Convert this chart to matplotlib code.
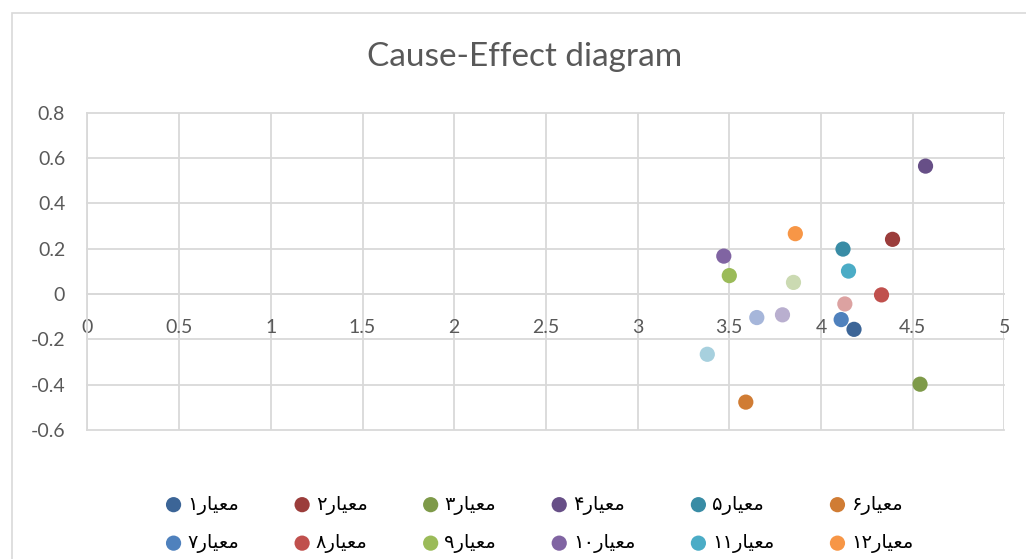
import matplotlib.pyplot as plt
from matplotlib.patches import Rectangle

# criteria (Persian labels), x = D+R, y = D-R
labels = ["معیار۱", "معیار۲", "معیار۳", "معیار۴", "معیار۵", "معیار۶",
          "معیار۷", "معیار۸", "معیار۹", "معیار۱۰", "معیار۱۱", "معیار۱۲",
          "معیار۱۳", "معیار۱۴", "معیار۱۵", "معیار۱۶", "معیار۱۷"]
x_vals = [4.18, 4.39, 4.54, 4.57, 4.12, 3.59,
          4.11, 4.33, 3.50, 3.47, 4.15, 3.86,
          3.65, 4.13, 3.85, 3.79, 3.38]
y_vals = [-0.156, 0.241, -0.398, 0.564, 0.198, -0.477,
          -0.113, -0.004, 0.081, 0.167, 0.101, 0.266,
          -0.104, -0.044, 0.051, -0.092, -0.266]
colors = ["#3c6597", "#9b3d3b", "#7e9a49", "#674f87", "#398ca5", "#d07c34",
          "#4f81bd", "#c0504d", "#9bbb59", "#8064a2", "#4bacc6", "#f79646",
          "#a6b6da", "#dca2a1", "#cbdab2", "#b9afcf", "#a7d0de"]
# only the first two legend rows are visible in the chart
n_legend = 12


# matplotlib has no Arabic shaping: build the visual (presentation form) string
FORMS = {"م": "\ufee3", "ع": "\ufecc", "ی": "\ufef4", "ا": "\ufe8e", "ر": "\ufead"}


def visual(label):
    word, num = label[:5], label[5:]
    return num + "".join(FORMS[c] for c in reversed(word))


grid_c = "#d9d9d9"
text_c = "#595959"

fig = plt.figure(figsize=(10.26, 5.59), dpi=100)
fig.patches.append(Rectangle((12 / 1026, -0.1), 1.2, 1.1 - 13 / 559,
                             transform=fig.transFigure, fill=False,
                             edgecolor=grid_c, lw=1.2))

ax = fig.add_axes([87.4 / 1026, 1 - 430 / 559, 917 / 1026, (430 - 112.6) / 559])
handles = []
for lab, x, y, c in zip(labels, x_vals, y_vals, colors):
    h = ax.scatter([x], [y], s=120, color=c, edgecolors="none", zorder=3,
                   label=visual(lab))
    handles.append(h)

ax.set_xlim(0, 5)
ax.set_ylim(-0.6, 0.8)
ax.set_xticks([0, 0.5, 1, 1.5, 2, 2.5, 3, 3.5, 4, 4.5, 5])
ax.set_xticklabels(["0", "0.5", "1", "1.5", "2", "2.5", "3", "3.5", "4", "4.5", "5"])
ax.set_yticks([-0.6, -0.4, -0.2, 0, 0.2, 0.4, 0.6, 0.8])
ax.set_yticklabels(["-0.6", "-0.4", "-0.2", "0", "0.2", "0.4", "0.6", "0.8"])
ax.grid(True, color=grid_c, lw=1.3)
ax.set_axisbelow(True)
for gl in ax.get_xgridlines() + ax.get_ygridlines():
    gl.set_clip_on(False)
for s in ["top", "right"]:
    ax.spines[s].set_visible(False)
ax.spines["left"].set_color(grid_c)
ax.spines["left"].set_linewidth(1.3)
# x labels sit under the zero line, as in Excel
ax.spines["bottom"].set_position(("data", 0))
ax.spines["bottom"].set_color(grid_c)
ax.spines["bottom"].set_linewidth(1.3)
ax.tick_params(axis="x", length=0, pad=18, labelsize=14, labelcolor=text_c)
ax.tick_params(axis="y", length=0, pad=16, labelsize=14, labelcolor=text_c)
for t in ax.get_xticklabels() + ax.get_yticklabels():
    t.set_fontfamily("Lato")

fig.text(525 / 1026, 1 - 57 / 559, "Cause-Effect diagram", ha="center", va="center",
         fontsize=24, color=text_c, family="Lato")

# Excel fills the legend row by row; matplotlib fills columns, so reorder
ncol = 6
order = []
for j in range(ncol):
    order += list(range(j, n_legend, ncol))
leg = fig.legend([handles[i] for i in order], [visual(labels[i]) for i in order],
                 ncol=ncol, loc="upper left", bbox_to_anchor=(158 / 1026, 1 - 487 / 559),
                 frameon=False, prop={"family": "DejaVu Sans", "size": 14},
                 handletextpad=0.3, columnspacing=2.85, labelspacing=0.95,
                 handlelength=0.8, borderaxespad=0)
for t in leg.get_texts():
    t.set_color("black")

fig.savefig("out.png", dpi=100)
